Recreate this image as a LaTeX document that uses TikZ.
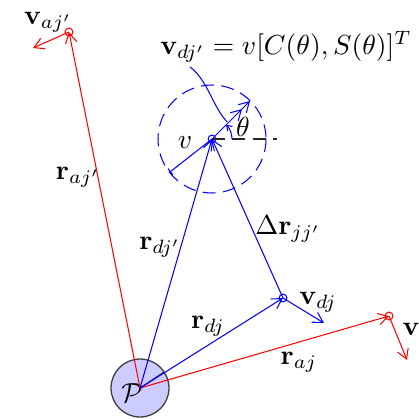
\documentclass[tikz,border=0pt]{standalone}
\usetikzlibrary{arrows.meta}
\newcommand{\lsc}[1]{\scalebox{1.06}{#1}}
\begin{document}
\begin{tikzpicture}[x=0.3846pt,y=-0.3846pt,
  vec/.style={-{Straight Barb[length=3.8pt,width=4.4pt]}},
  vecdbl/.style={-{Straight Barb[length=3.8pt,width=4.4pt]Straight Barb[length=3.8pt,width=4.4pt]}},
  redpt/.style={circle,draw=red,inner sep=0pt,minimum size=3pt},
  bluept/.style={circle,draw=blue,inner sep=0pt,minimum size=3pt},
  pcirc/.style={circle,draw=black!75,fill=blue!20,line width=0.5pt,inner sep=0pt,minimum size=22.3pt},
  dsh/.style={dash pattern=on 5pt off 2.8pt},
  lbl/.style={inner sep=0pt}]
\useasboundingbox (0,0) rectangle (419,418);
% body P
\node[pcirc] (P) at (140,388) {};
\coordinate (Prad) at (164,372);
\draw[black!80] (P.center) -- (Prad);
\node[lbl] (Plabel) at (132,393) {\lsc{$\mathcal{P}$}};
% points
\node[redpt] (ajp) at (69,32) {};
\node[redpt] (aj) at (389,316) {};
\node[bluept] (dj) at (283,298) {};
\node[bluept] (djp) at (212,139) {};
% dashed circle and reference line
\draw[blue,dsh] (djp.center) circle[radius=54];
\coordinate (href) at (277,139);
\draw[black!85,dsh] (djp.center) -- (href);
% position vectors
\draw[red,vec] (P.center) -- (ajp.center);
\draw[red,vec] (P.center) -- (aj.center);
\draw[blue,vec] (P.center) -- (djp.center);
\draw[blue,vec] (P.center) -- (dj.center);
\draw[blue,vec] (dj.center) -- (djp.center);
% velocities
\coordinate (vajpE) at (33,48);
\coordinate (vajE) at (407,360);
\coordinate (vdjE) at (324,323);
\coordinate (vdjpE) at (250,101);
\coordinate (vradE) at (170,172);
\draw[red,vec] (ajp.center) -- (vajpE);
\draw[red,vec] (aj.center) -- (vajE);
\draw[blue,vec] (dj.center) -- (vdjE);
\draw[blue,vecdbl] (djp.center) -- (vdjpE);
\draw[blue,-{Bar[width=3pt]}] (djp.center) -- (vradE);
% angle arc
\draw[blue,-{Straight Barb[length=1.8pt,width=2.6pt]}] (232,139) arc[start angle=0,end angle=-45,radius=20];
% annotation curve
\coordinate (annS) at (190,67);
\coordinate (annE) at (227,122);
\draw[blue] (annS) .. controls (200,74) and (207,88) .. (213,100) .. controls (218,110) and (222,116) .. (annE);
% labels
\node[lbl] (lvajp) at (48,22) {\lsc{$\mathbf{v}_{aj'}$}};
\node[lbl] (lvdjp) at (286,47) {\lsc{$\mathbf{v}_{dj'} = v[C(\theta),S(\theta)]^T$}};
\node[lbl] (ltheta) at (243,127) {\lsc{$\theta$}};
\node[lbl] (lv) at (185,143) {\lsc{$v$}};
\node[lbl] (lrajp) at (78,177) {\lsc{$\mathbf{r}_{aj'}$}};
\node[lbl] (lrdjp) at (160,247) {\lsc{$\mathbf{r}_{dj'}$}};
\node[lbl] (ldr) at (288,229) {\lsc{$\Delta\mathbf{r}_{jj'}$}};
\node[lbl] (lvdj) at (318,302) {\lsc{$\mathbf{v}_{dj}$}};
\node[lbl] (lrdj) at (208,326) {\lsc{$\mathbf{r}_{dj}$}};
\node[lbl] (lraj) at (299,362) {\lsc{$\mathbf{r}_{aj}$}};
\node[lbl,anchor=west] (lvaj) at (402,333) {\lsc{$\mathbf{v}_{aj}$}};
\end{tikzpicture}
\end{document}
